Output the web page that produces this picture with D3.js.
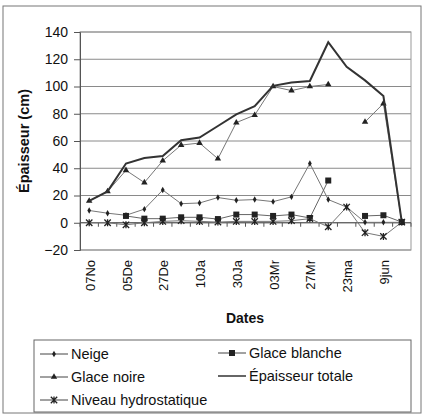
<!DOCTYPE html>
<html>
<meta charset="UTF-8">
<script src="https://cdnjs.cloudflare.com/ajax/libs/d3/7.8.5/d3.min.js"></script>
<style>
  body { margin:0; background:#fff; }
  svg { font-family: "Liberation Sans", Arial, sans-serif; }
</style>
<body>
<svg id="viz" width="426" height="414"></svg>
<script>
// data (18 dates, only every other one labelled)
var dates = ["07No","","05De","","27De","","10Ja","","30Ja","","03Mr","","27Mr","","23ma","","9jun",""];
var neige = [9, 7, 5.5, 10, 24, 14, 14.5, 18.5, 16.5, 17, 15.5, 19, 43.5, 17, 11.5, 0.3, 0.3, 0.3];
var glaceBlanche = [null, null, 5, 3, 3, 4, 4, 2.7, 6, 6, 5, 6, 3.5, 31, null, 5, 5.5, 0.5];
var glaceNoire = [16, 23, 38.5, 29.5, 45.5, 57, 58.5, 47, 73.5, 79, 100, 97, 100, 101.5, null, 74, 87.5, 0.5];
var epaisseurTotale = [16, 23, 43.5, 47.5, 49, 60.5, 62.5, 71, 79.5, 85.5, 100.5, 103, 104, 132.5, 114.5, 104.5, 93, 0.5];
var niveauHydro = [0, 0, -1.5, 0, 1, 1.5, 1, 0.5, 1, 1, 1, 1.5, 3, -3, 11.5, -7.3, -10, 0.5];
var yTicks = [-20, 0, 20, 40, 60, 80, 100, 120, 140];

var svg = d3.select("#viz");

// outer frame
svg.append("rect").attr("x", 3).attr("y", 6).attr("width", 418).attr("height", 407)
  .attr("fill", "none").attr("stroke", "#777").attr("stroke-width", 1);

var x = d3.scaleBand().domain(d3.range(dates.length)).range([80, 411]);
var y = d3.scaleLinear().domain([-20, 140]).range([250, 32]);
var cx = function(i) { return x(i) + x.bandwidth() / 2; };

// gridlines
svg.append("g").selectAll("line").data(yTicks).enter().append("line")
  .attr("x1", 80).attr("x2", 411)
  .attr("y1", function(d) { return y(d); }).attr("y2", function(d) { return y(d); })
  .attr("stroke", "#8a8a8a").attr("stroke-width", 1);

// plot border
svg.append("rect").attr("x", 80).attr("y", y(140)).attr("width", 331).attr("height", y(-20) - y(140))
  .attr("fill", "none").attr("stroke", "#999");

// y axis
var yAxis = svg.append("g").attr("transform", "translate(80,0)")
  .call(d3.axisLeft(y).tickValues(yTicks).tickSize(6).tickPadding(6));
yAxis.selectAll("line, path").attr("stroke", "#555");
yAxis.selectAll("text").attr("font-size", "14px").attr("fill", "#111")
  .attr("font-family", "Liberation Sans, Arial, sans-serif");

// x axis line at 0 with small ticks between categories
svg.append("line").attr("x1", 80).attr("x2", 411).attr("y1", y(0)).attr("y2", y(0))
  .attr("stroke", "#555");
svg.append("g").selectAll("line").data(d3.range(dates.length + 1)).enter().append("line")
  .attr("x1", function(i) { return 80 + i * x.bandwidth(); })
  .attr("x2", function(i) { return 80 + i * x.bandwidth(); })
  .attr("y1", y(0)).attr("y2", y(0) + 4).attr("stroke", "#555");

// x tick labels, low position
var xAxis = svg.append("g").attr("transform", "translate(0,250)")
  .call(d3.axisBottom(x).tickFormat(function(i) { return dates[i]; }).tickSize(0));
xAxis.select(".domain").remove();
xAxis.selectAll("text")
  .attr("font-size", "13px").attr("fill", "#111")
  .attr("font-family", "Liberation Sans, Arial, sans-serif")
  .attr("text-anchor", "end")
  .attr("dy", "0.35em")
  .attr("transform", "translate(1,10) rotate(-90)")
  .attr("y", 0).attr("x", 0);

// axis titles
svg.append("text").attr("x", 245).attr("y", 323).attr("text-anchor", "middle")
  .attr("font-size", "14px").attr("font-weight", "bold").attr("fill", "#111").text("Dates");
svg.append("text").attr("transform", "translate(29,141) rotate(-90)").attr("text-anchor", "middle")
  .attr("font-size", "14.5px").attr("font-weight", "bold").attr("fill", "#111").text("Épaisseur (cm)");

// series
var series = [
  {name: "Neige", values: neige, marker: "dot", stroke: "#777", width: 1},
  {name: "Glace blanche", values: glaceBlanche, marker: "square", stroke: "#666", width: 1},
  {name: "Glace noire", values: glaceNoire, marker: "triangle", stroke: "#777", width: 1},
  {name: "Épaisseur totale", values: epaisseurTotale, marker: null, stroke: "#333", width: 2},
  {name: "Niveau hydrostatique", values: niveauHydro, marker: "star", stroke: "#777", width: 1}
];

var line = d3.line()
  .defined(function(d) { return d != null; })
  .x(function(d, i) { return cx(i); })
  .y(function(d) { return y(d); });

function drawMarker(g, type, px, py) {
  if (type === "dot") {
    g.append("path").attr("d", d3.symbol().type(d3.symbolDiamond).size(12)())
      .attr("transform", "translate(" + px + "," + py + ")").attr("fill", "#222");
  } else if (type === "square") {
    g.append("rect").attr("x", px - 3).attr("y", py - 3).attr("width", 6).attr("height", 6)
      .attr("fill", "#222");
  } else if (type === "triangle") {
    g.append("path").attr("d", d3.symbol().type(d3.symbolTriangle).size(18)())
      .attr("transform", "translate(" + px + "," + py + ")").attr("fill", "#222");
  } else if (type === "star") {
    g.append("path")
      .attr("d", "M" + (px - 3.2) + "," + (py - 3.2) + "L" + (px + 3.2) + "," + (py + 3.2) +
        "M" + (px + 3.2) + "," + (py - 3.2) + "L" + (px - 3.2) + "," + (py + 3.2) +
        "M" + px + "," + (py - 3.5) + "L" + px + "," + (py + 3.5))
      .attr("stroke", "#222").attr("stroke-width", 1.3).attr("fill", "none");
  }
}

series.forEach(function(s) {
  var g = svg.append("g");
  g.append("path").datum(s.values).attr("d", line)
    .attr("fill", "none").attr("stroke", s.stroke).attr("stroke-width", s.width);
  if (s.marker) {
    s.values.forEach(function(v, i) {
      if (v != null) drawMarker(g, s.marker, cx(i), y(v));
    });
  }
});

// legend
var lg = svg.append("g");
lg.append("rect").attr("x", 34).attr("y", 340).attr("width", 377).attr("height", 72)
  .attr("fill", "#fff").attr("stroke", "#666");
var legendPos = [
  {s: series[0], x: 40, y: 354},
  {s: series[1], x: 218, y: 353},
  {s: series[2], x: 40, y: 377},
  {s: series[3], x: 218, y: 376},
  {s: series[4], x: 40, y: 400}
];
legendPos.forEach(function(p) {
  var g = lg.append("g");
  g.append("line").attr("x1", p.x).attr("x2", p.x + 28).attr("y1", p.y).attr("y2", p.y)
    .attr("stroke", p.s.marker ? "#444" : "#333").attr("stroke-width", p.s.marker ? 1 : 1.5);
  if (p.s.marker) drawMarker(g, p.s.marker, p.x + 14, p.y);
  g.append("text").attr("x", p.x + 31).attr("y", p.y + 5).attr("font-size", "14.5px")
    .attr("fill", "#111").text(p.s.name);
});
</script>
</body>
</html>
